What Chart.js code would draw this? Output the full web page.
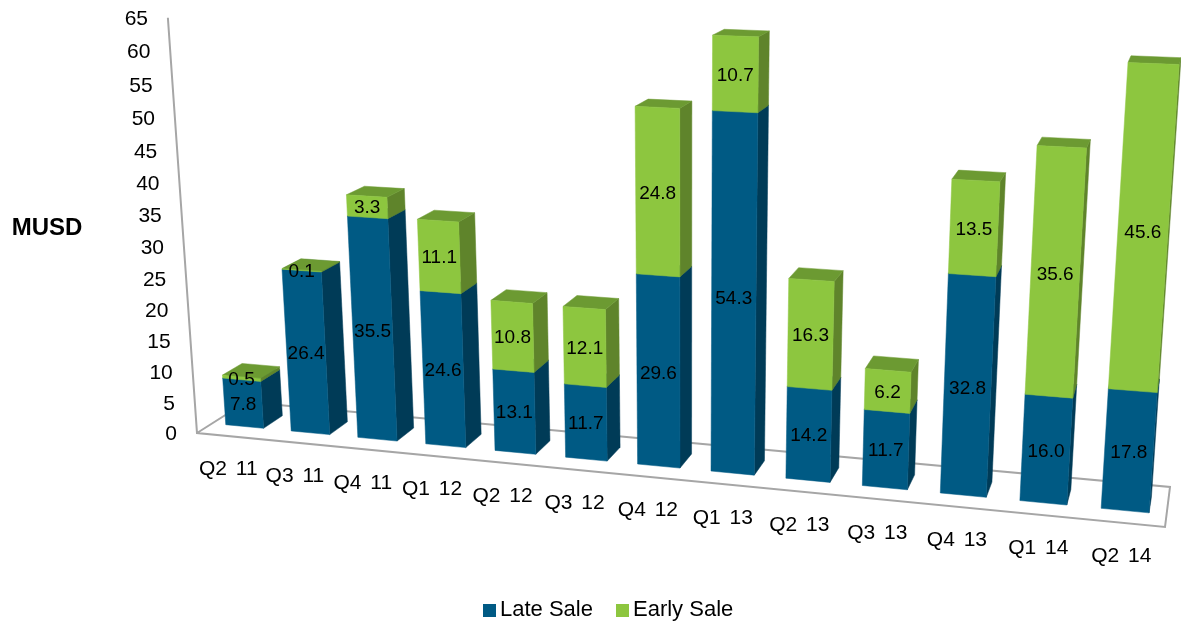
<!DOCTYPE html>
<html>
<head>
<meta charset="utf-8">
<title>Late and early sale per quarter</title>
<script src="https://cdn.jsdelivr.net/npm/chart.js@4"></script>
<style>
  html, body { margin: 0; padding: 0; background: #fff; }
  canvas { display: block; }
</style>
</head>
<body>
<canvas id="myChart" width="1181" height="625"></canvas>
<script>
const quarters = ['Q2 11', 'Q3 11', 'Q4 11', 'Q1 12', 'Q2 12', 'Q3 12', 'Q4 12', 'Q1 13', 'Q2 13', 'Q3 13', 'Q4 13', 'Q1 14', 'Q2 14'];
const lateSale = [7.8, 26.4, 35.5, 24.6, 13.1, 11.7, 29.6, 54.3, 14.2, 11.7, 32.8, 16.0, 17.8];
const earlySale = [0.5, 0.1, 3.3, 11.1, 10.8, 12.1, 24.8, 10.7, 16.3, 6.2, 13.5, 35.6, 45.6];

const FONT = '"Liberation Sans", Arial, sans-serif';

// floor corners and top of the value axis, in canvas pixels
const floorFrontLeft = [197, 433];
const floorFrontRight = [1165, 527];
const floorBackRight = [1170, 487];
const floorBackLeft = [246, 402];
const axisTop = [168, 19.5];
const verticalDepth = -0.056;

// projective camera: u along quarters, v up the values, w into the floor
function buildCamera() {
    const [x0, y0] = floorFrontLeft, [x1, y1] = floorFrontRight;
    const [x2, y2] = floorBackRight, [x3, y3] = floorBackLeft;
    const dx1 = x1 - x2, dx2 = x3 - x2, sx = x0 - x1 + x2 - x3;
    const dy1 = y1 - y2, dy2 = y3 - y2, sy = y0 - y1 + y2 - y3;
    const den = dx1 * dy2 - dx2 * dy1;
    const g = (sx * dy2 - dx2 * sy) / den;
    const h = (dx1 * sy - sx * dy1) / den;
    const a = x1 - x0 + g * x1, b = x3 - x0 + h * x3;
    const d = y1 - y0 + g * y1, e = y3 - y0 + h * y3;
    const vx = axisTop[0] * (1 + verticalDepth) - x0;
    const vy = axisTop[1] * (1 + verticalDepth) - y0;
    return (u, v, w) => {
        const q = g * u + h * w + verticalDepth * v + 1;
        return [(a * u + b * w + vx * v + x0) / q, (d * u + e * w + vy * v + y0) / q];
    };
}
const project = buildCamera();

function face(ctx, points, color) {
    ctx.beginPath();
    points.forEach((p, i) => i ? ctx.lineTo(p[0], p[1]) : ctx.moveTo(p[0], p[1]));
    ctx.closePath();
    ctx.fillStyle = color;
    ctx.fill();
    ctx.strokeStyle = color;
    ctx.lineWidth = 0.5;
    ctx.stroke();
}

const shades = [
    { front: '#005a84', side: '#003b57', top: '#00496b' },
    { front: '#8dc63f', side: '#5f842b', top: '#6c9a32' }
];
const nearW = 0.3, farW = 0.7;

const boxes3d = {
    id: 'boxes3d',
    // frame, floor and value ticks sit behind the columns
    beforeDatasetsDraw(chart) {
        const { ctx, scales: { x, y } } = chart;
        ctx.save();
        ctx.strokeStyle = '#a6a6a6';
        ctx.lineWidth = 2;
        ctx.lineJoin = 'miter';
        ctx.beginPath();
        ctx.moveTo(...project(0, 1.004, 0));
        ctx.lineTo(...project(0, 0, 0));
        ctx.lineTo(...project(1, 0, 0));
        ctx.lineTo(...project(1, 0, 1));
        ctx.lineTo(...project(0, 0, 1));
        ctx.lineTo(...project(0, 0, 0));
        ctx.stroke();

        ctx.fillStyle = '#000';
        ctx.font = '21px ' + FONT;
        ctx.textAlign = 'right';
        ctx.textBaseline = 'middle';
        y.ticks.forEach(t => {
            const v = (y.bottom - y.getPixelForValue(t.value)) / y.height;
            const p = project(0, v, 0);
            ctx.fillText(t.label, p[0] - 20, p[1] + 1 - 1.5 * v);
        });

        ctx.textAlign = 'center';
        ctx.wordSpacing = '3px';
        x.ticks.forEach((t, i) => {
            const u = (x.getPixelForTick(i) - x.left) / x.width;
            const p = project(u, 0, 0);
            ctx.fillText(x.getLabelForValue(t.value), p[0] - 1.5, p[1] + 33.5);
        });
        ctx.wordSpacing = '0px';

        ctx.font = 'bold 24px ' + FONT;
        ctx.fillText('MUSD', 47, 228);
        ctx.restore();
    },
    // the default flat bars are replaced by the boxes painted after all datasets
    beforeDatasetDraw() {
        return false;
    },
    afterDatasetsDraw(chart) {
        const { ctx, scales: { x, y } } = chart;
        // lower segment first so the upper one covers its lid
        chart.data.datasets.forEach((ds, d) => {
            const tone = shades[d];
            chart.getDatasetMeta(d).data.forEach(bar => {
                const { x: cx, y: top, base, width } = bar.getProps(['x', 'y', 'base', 'width'], true);
                const u0 = (cx - width / 2 - x.left) / x.width;
                const u1 = (cx + width / 2 - x.left) / x.width;
                const v0 = (y.bottom - base) / y.height;
                const v1 = (y.bottom - top) / y.height;
                face(ctx, [project(u1, v0, nearW), project(u1, v0, farW), project(u1, v1, farW), project(u1, v1, nearW)], tone.side);
                face(ctx, [project(u0, v1, nearW), project(u1, v1, nearW), project(u1, v1, farW), project(u0, v1, farW)], tone.top);
                face(ctx, [project(u0, v0, nearW), project(u1, v0, nearW), project(u1, v1, nearW), project(u0, v1, nearW)], tone.front);
            });
        });

        ctx.save();
        ctx.fillStyle = '#000';
        ctx.font = '19px ' + FONT;
        ctx.textAlign = 'center';
        ctx.textBaseline = 'middle';
        chart.data.datasets.forEach((ds, d) => {
            chart.getDatasetMeta(d).data.forEach((bar, i) => {
                const { x: cx, y: top, base } = bar.getProps(['x', 'y', 'base'], true);
                const u = (cx - x.left) / x.width;
                const v = (y.bottom - (top + base) / 2) / y.height;
                const p = project(u, v, nearW);
                ctx.fillText(ds.data[i].toFixed(1), p[0], p[1] + 1.5);
            });
        });

        // legend row under the floor
        ctx.textAlign = 'left';
        ctx.font = '22px ' + FONT;
        const row = [[483, 500], [616, 633]];
        chart.data.datasets.forEach((ds, d) => {
            ctx.fillStyle = ds.backgroundColor;
            ctx.fillRect(row[d][0], 604, 13, 13);
            ctx.fillStyle = '#000';
            ctx.fillText(ds.label, row[d][1], 610);
        });
        ctx.restore();
    }
};

new Chart(document.getElementById('myChart').getContext('2d'), {
    type: 'bar',
    data: {
        labels: quarters,
        datasets: [
            { label: 'Late Sale', data: lateSale, backgroundColor: shades[0].front },
            { label: 'Early Sale', data: earlySale, backgroundColor: shades[1].front }
        ]
    },
    options: {
        responsive: false,
        animation: false,
        categoryPercentage: 1,
        barPercentage: 0.58,
        plugins: { legend: { display: false }, tooltip: { enabled: false } },
        scales: {
            x: { stacked: true, display: false },
            y: { stacked: true, display: false, min: 0, max: 65, ticks: { stepSize: 5 } }
        }
    },
    plugins: [boxes3d]
});
</script>
</body>
</html>
